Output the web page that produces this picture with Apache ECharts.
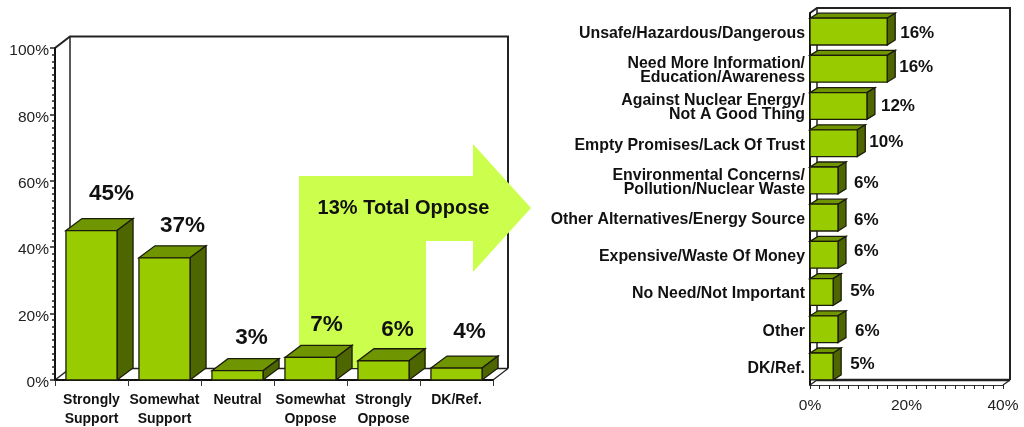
<!DOCTYPE html>
<html>
<head>
<meta charset="utf-8">
<style>html,body{margin:0;padding:0;background:#fff}#c{width:1024px;height:427px}</style>
<script src="https://cdn.jsdelivr.net/npm/echarts@6/dist/echarts.min.js"></script>
</head>
<body>
<div id="c"></div>
<script>
// Data
var leftCategories = ['Strongly\nSupport', 'Somewhat\nSupport', 'Neutral', 'Somewhat\nOppose', 'Strongly\nOppose', 'DK/Ref.'];
var leftValues = [45, 36.8, 2.8, 6.8, 5.8, 3.6];
var leftLabels = ['45%', '37%', '3%', '7%', '6%', '4%'];
var rightCategories = ['Unsafe/Hazardous/Dangerous', 'Need More Information/\nEducation/Awareness', 'Against Nuclear Energy/\nNot A Good Thing', 'Empty Promises/Lack Of Trust', 'Environmental Concerns/\nPollution/Nuclear Waste', 'Other Alternatives/Energy Source', 'Expensive/Waste Of Money', 'No Need/Not Important', 'Other', 'DK/Ref.'];
var rightValues = [16, 16, 11.8, 9.8, 5.8, 5.8, 5.8, 4.8, 5.8, 4.8];
var rightLabels = ['16%', '16%', '12%', '10%', '6%', '6%', '6%', '5%', '6%', '5%'];
var valueTicks = { left: [0, 100, 20], right: [0, 40, 20] };
var calloutText = '13% Total Oppose';

// Label nudges and layout
var leftNudge = [[20, -37], [18, -32], [14, -33], [16, -33], [14, -31], [13, -36]];
var rightNudge = [[13, 1.5], [12, -1.5], [14, 0.5], [12, -0.5], [16, 2.5], [16, 2.5], [16, -3.5], [17, -0.5], [17, 2.5], [17, -2.5]];
var FONT = '"Liberation Sans", Arial, sans-serif';
var FRONT = '#99CC00', TOP = '#6F9600', SIDE = '#4D6600', EDGE = '#1c1c0c', INK = '#111';
var gl = { left: 55, top: 48, width: 438, height: 332 };
var gr = { left: 810, top: 13, width: 193, height: 372 };
var dl = [15, -11.5], dr = [7, -5];

function box(x0, y0, x1, y1, d) {
  var st = { stroke: EDGE, lineWidth: 1.3 };
  return [
    { type: 'polygon', shape: { points: [[x0, y0], [x0 + d[0], y0 + d[1]], [x1 + d[0], y0 + d[1]], [x1, y0]] }, style: Object.assign({ fill: TOP }, st) },
    { type: 'polygon', shape: { points: [[x1, y0], [x1 + d[0], y0 + d[1]], [x1 + d[0], y1 + d[1]], [x1, y1]] }, style: Object.assign({ fill: SIDE }, st) },
    { type: 'rect', shape: { x: x0, y: y0, width: x1 - x0, height: y1 - y0 }, style: Object.assign({ fill: FRONT }, st) }
  ];
}
function leftBars(params, api) {
  var i = api.value(0), p = api.coord([i, api.value(1)]), base = api.coord([i, 0]);
  var w = api.size([1, 0])[0] * 0.7;
  var kids = box(p[0] - w / 2, p[1], p[0] + w / 2, base[1], [16, -12]);
  kids.push({ type: 'text', style: { text: leftLabels[i], x: p[0] + leftNudge[i][0], y: p[1] + leftNudge[i][1], align: 'center', verticalAlign: 'middle', fill: INK, font: 'bold 22.5px ' + FONT } });
  return { type: 'group', children: kids };
}
function rightBars(params, api) {
  var i = api.value(1), p = api.coord([api.value(0), i]), base = api.coord([0, i]);
  var h = api.size([0, 1])[1] * 0.72;
  var kids = box(base[0], p[1] - h / 2, p[0], p[1] + h / 2, [8, -5]);
  kids.push({ type: 'text', style: { text: rightLabels[i], x: p[0] + rightNudge[i][0], y: p[1] + rightNudge[i][1], align: 'left', verticalAlign: 'middle', fill: INK, font: 'bold 17px ' + FONT } });
  return { type: 'group', children: kids };
}
function line(pts, w) {
  return { type: 'polyline', z: 0, shape: { points: pts }, style: { stroke: '#222', lineWidth: w, fill: null } };
}
function frame(g, d, floorW) {
  var x0 = g.left, x1 = g.left + g.width, y0 = g.top, y1 = g.top + g.height;
  return [
    line([[x0, y0], [x0 + d[0], y0 + d[1]], [x1 + d[0], y0 + d[1]], [x1 + d[0], y1 + d[1]]], 2),
    line([[x0 + d[0], y0 + d[1]], [x0 + d[0], y1 + d[1]]], 1.5),
    line([[x0, y1], [x0 + d[0], y1 + d[1]]], 1.5),
    line([[x0 + d[0], y1 + d[1]], [x1 + d[0], y1 + d[1]]], floorW),
    line([[x1 + d[0], y1 + d[1]], [x1, y1]], 1.2)
  ];
}
var arrowPts = [[299, 176], [473, 176], [473, 144], [531, 208], [473, 272], [473, 241], [426, 241], [426, 368], [299, 368]];
// A small blank first line nudges axis labels down a little
function spaced(text) {
  return '{s| }\n' + String(text).split('\n').map(function (t) { return '{t|' + t + '}'; }).join('\n');
}
var spacer = function (h) { return { fontSize: 1, lineHeight: h, height: h }; };

var chart = echarts.init(document.getElementById('c'), null, { renderer: 'canvas' });
chart.setOption({
  animation: false,
  backgroundColor: '#fff',
  textStyle: { fontFamily: FONT },
  grid: [
    Object.assign({ containLabel: false, outerBoundsMode: 'none' }, gl),
    Object.assign({ containLabel: false, outerBoundsMode: 'none' }, gr)
  ],
  xAxis: [
    { type: 'category', gridIndex: 0, data: leftCategories, boundaryGap: true,
      axisLine: { show: true, lineStyle: { color: '#111', width: 2 } },
      axisTick: { show: true, length: 6, alignWithLabel: false, lineStyle: { color: '#333', width: 1 } },
      axisLabel: { interval: 0, margin: 11, color: '#111', fontWeight: 'bold', fontSize: 14, lineHeight: 19, fontFamily: FONT } },
    { type: 'value', gridIndex: 1, min: valueTicks.right[0], max: valueTicks.right[1], interval: valueTicks.right[2],
      axisLine: { show: true, lineStyle: { color: '#333', width: 1 } },
      axisTick: { show: true, length: 4, lineStyle: { color: '#222', width: 1 } },
      minorTick: { show: true, splitNumber: 10, length: 4, lineStyle: { color: '#222', width: 1 } },
      splitLine: { show: false }, minorSplitLine: { show: false },
      axisLabel: { margin: 13, color: '#222', fontSize: 15.5, fontFamily: FONT, formatter: '{value}%' } }
  ],
  yAxis: [
    { type: 'value', gridIndex: 0, min: valueTicks.left[0], max: valueTicks.left[1], interval: valueTicks.left[2],
      axisLine: { show: true, lineStyle: { color: '#111', width: 2 } },
      axisTick: { show: true, length: 5, lineStyle: { color: '#222', width: 1.5 } },
      minorTick: { show: true, splitNumber: 10, length: 3, lineStyle: { color: '#222', width: 1.5 } },
      splitLine: { show: false }, minorSplitLine: { show: false },
      axisLabel: { margin: 6, formatter: function (v) { return spaced(v + '%'); },
        rich: { s: spacer(6), t: { color: '#222', fontSize: 15.5, lineHeight: 18, fontFamily: FONT } } } },
    { type: 'category', gridIndex: 1, inverse: true, data: rightCategories, boundaryGap: true,
      axisLine: { show: true, lineStyle: { color: '#111', width: 2 } },
      axisTick: { show: false },
      axisLabel: { interval: 0, margin: 5, align: 'right', formatter: spaced,
        rich: { s: spacer(4), t: { color: '#111', fontWeight: 'bold', fontSize: 15.9, lineHeight: 14, fontFamily: FONT } } } }
  ],
  series: [
    { type: 'custom', xAxisIndex: 0, yAxisIndex: 0, z: 5, clip: false, renderItem: leftBars,
      data: leftValues.map(function (v, i) { return [i, v]; }), encode: { x: 0, y: 1 } },
    { type: 'custom', xAxisIndex: 1, yAxisIndex: 1, z: 5, clip: false, renderItem: rightBars,
      data: rightValues.map(function (v, i) { return [v, i]; }), encode: { x: 0, y: 1 } }
  ],
  graphic: frame(gl, dl, 1.5).concat(frame(gr, dr, 2.5)).concat([
    { type: 'polygon', z: 1, shape: { points: arrowPts }, style: { fill: '#CCFF4D' } },
    { type: 'text', z: 6, style: { text: calloutText, x: 403.5, y: 208, align: 'center', verticalAlign: 'middle', fill: INK, font: 'bold 20px ' + FONT } }
  ])
});
</script>
</body>
</html>
